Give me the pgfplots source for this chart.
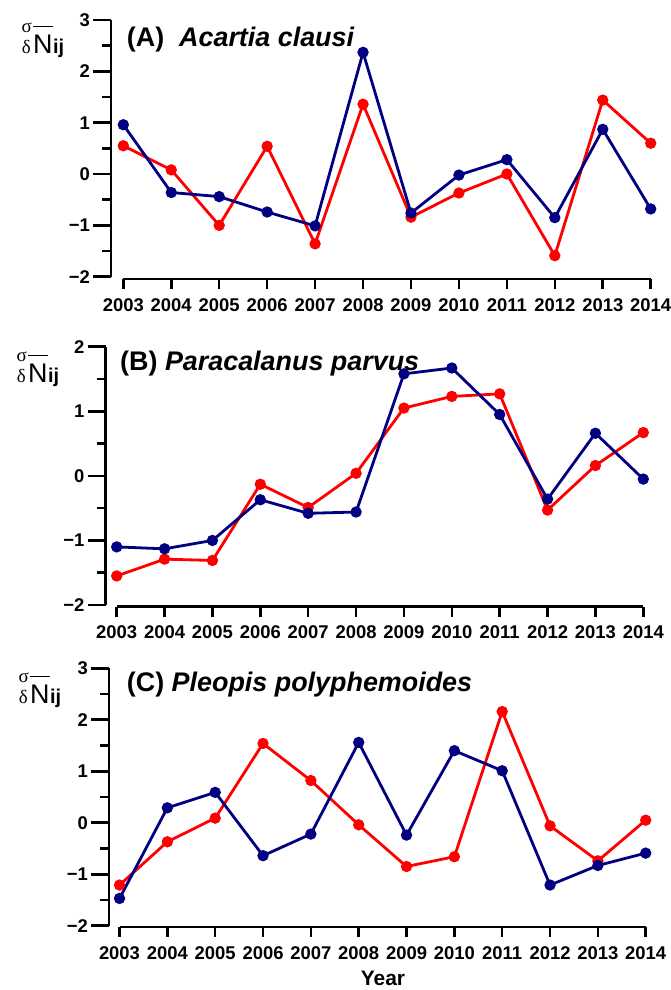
\documentclass[border=0pt]{standalone}
\usepackage{fontspec}
\setmainfont{Liberation Sans}
\newfontfamily\greekfont{Liberation Serif}
\usepackage{pgfplots}
\pgfplotsset{compat=1.18}
\definecolor{myred}{RGB}{255,0,0}
\definecolor{myblue}{RGB}{0,0,128}
\pgfplotsset{
  yaxisstyle/.style={scale only axis, anchor=south west, axis y line*=left, axis x line=none, clip=false,
    axis line style={-, line width=2.6bp, black},
    tick align=outside, major tick length=18bp, minor tick length=9bp,
    major tick style={line width=2.6bp, black}, minor tick style={line width=2.6bp, black},
    yticklabel style={font=\fontsize{18.5}{20}\selectfont\bfseries, inner sep=3bp}},
  xaxisstyle/.style={scale only axis, anchor=south west, axis x line*=bottom, axis y line=none,
    xmin=2003, xmax=2014,
    axis line style={-, line width=2.6bp, black},
    tick align=outside, major tick length=10bp,
    major tick style={line width=2.6bp, black},
    xtick={2003,2004,2005,2006,2007,2008,2009,2010,2011,2012,2013,2014},
    xticklabels={2003,2004,2005,2006,2007,2008,2009,2010,2011,2012,2013,2014},
    xticklabel style={font=\fontsize{18.5}{20}\selectfont\bfseries, yshift=-6bp}},
  redline/.style={myred, line width=2.8bp, mark=*, mark size=4.2bp, mark options={solid, fill=myred}},
  blueline/.style={myblue, line width=2.8bp, mark=*, mark size=4.2bp, mark options={solid, fill=myblue}},
}
\newcommand{\Nlabel}[2]{%
  \node[anchor=base west, inner sep=0pt, font=\fontsize{27}{27}\selectfont] (N) at (#1bp,-#2bp) {N};
  \draw[line width=1.3bp] ([yshift=8bp]N.north west) -- ([yshift=8bp]N.north east);
  \node[anchor=base west, inner sep=0pt, font=\fontsize{20}{20}\selectfont\bfseries] at (N.base east) {ij};
  \node[anchor=base east, inner sep=0pt, font=\fontsize{19}{19}\greekfont] at ([xshift=-1bp,yshift=21bp]N.base west) {σ};
  \node[anchor=base east, inner sep=0pt, font=\fontsize{19}{19}\greekfont] at ([xshift=-2bp]N.base west) {δ};
}
\begin{document}
\begin{tikzpicture}
\useasboundingbox (0,0) rectangle (671bp,-990bp);
% ---------------- Panel A ----------------
\begin{axis}[yaxisstyle, at={(111bp,-276.7bp)}, width=539.7bp, height=256.7bp,
  xmin=2002.743, xmax=2014, ymin=-2, ymax=3,
  ytick={-2,-1,0,1,2,3}, yticklabels={−2,−1,0,1,2,3},
  minor ytick={-1.5,-0.5,0.5,1.5,2.5}]
\addplot[redline] coordinates {(2003,0.55) (2004,0.08) (2005,-1.00) (2006,0.54) (2007,-1.36) (2008,1.36) (2009,-0.84) (2010,-0.37) (2011,0.00) (2012,-1.59) (2013,1.44) (2014,0.60)};
\addplot[blueline] coordinates {(2003,0.96) (2004,-0.36) (2005,-0.44) (2006,-0.74) (2007,-1.01) (2008,2.37) (2009,-0.76) (2010,-0.02) (2011,0.28) (2012,-0.85) (2013,0.87) (2014,-0.68)};
\end{axis}
\begin{axis}[xaxisstyle, at={(123.3bp,-279bp)}, width=527.4bp, height=256.7bp, ymin=-2, ymax=3]
\end{axis}
% ---------------- Panel B ----------------
\begin{axis}[yaxisstyle, at={(105.5bp,-605bp)}, width=537.8bp, height=258.3bp,
  xmin=2002.766, xmax=2014, ymin=-2, ymax=2,
  ytick={-2,-1,0,1,2}, yticklabels={−2,−1,0,1,2},
  minor ytick={-1.5,-0.5,0.5,1.5}]
\addplot[redline] coordinates {(2003,-1.55) (2004,-1.29) (2005,-1.31) (2006,-0.13) (2007,-0.49) (2008,0.04) (2009,1.05) (2010,1.23) (2011,1.27) (2012,-0.53) (2013,0.16) (2014,0.67)};
\addplot[blueline] coordinates {(2003,-1.10) (2004,-1.13) (2005,-1.00) (2006,-0.37) (2007,-0.58) (2008,-0.56) (2009,1.58) (2010,1.67) (2011,0.95) (2012,-0.36) (2013,0.66) (2014,-0.05)};
\end{axis}
\begin{axis}[xaxisstyle, at={(116.7bp,-606.5bp)}, width=526.6bp, height=258.3bp, ymin=-2, ymax=2]
\end{axis}
% ---------------- Panel C ----------------
\begin{axis}[yaxisstyle, at={(109bp,-925.7bp)}, width=536.7bp, height=257.4bp,
  xmin=2002.78, xmax=2014, ymin=-2, ymax=3,
  ytick={-2,-1,0,1,2,3}, yticklabels={−2,−1,0,1,2,3},
  minor ytick={-1.5,-0.5,0.5,1.5,2.5}]
\addplot[redline] coordinates {(2003,-1.21) (2004,-0.37) (2005,0.09) (2006,1.54) (2007,0.82) (2008,-0.04) (2009,-0.85) (2010,-0.66) (2011,2.16) (2012,-0.06) (2013,-0.74) (2014,0.05)};
\addplot[blueline] coordinates {(2003,-1.47) (2004,0.29) (2005,0.59) (2006,-0.64) (2007,-0.22) (2008,1.56) (2009,-0.24) (2010,1.40) (2011,1.01) (2012,-1.21) (2013,-0.83) (2014,-0.59)};
\end{axis}
\begin{axis}[xaxisstyle, at={(119.5bp,-927bp)}, width=526.2bp, height=257.4bp, ymin=-2, ymax=3]
\end{axis}
% ---------------- Titles and labels ----------------
\node[anchor=base west, inner sep=0pt, font=\fontsize{27}{30}\selectfont\bfseries] at (126.7bp,-46bp) {(A)~~\textit{Acartia clausi}};
\node[anchor=base west, inner sep=0pt, font=\fontsize{27}{30}\selectfont\bfseries] at (120bp,-370bp) {(B) \textit{Paracalanus parvus}};
\node[anchor=base west, inner sep=0pt, font=\fontsize{27}{30}\selectfont\bfseries] at (126.7bp,-691.7bp) {(C) \textit{Pleopis polyphemoides}};
\Nlabel{33}{53}
\Nlabel{28}{382}
\Nlabel{30}{703}
\node[anchor=base, inner sep=0pt, font=\fontsize{21}{24}\selectfont\bfseries] at (383bp,-985bp) {Year};
\end{tikzpicture}
\end{document}
